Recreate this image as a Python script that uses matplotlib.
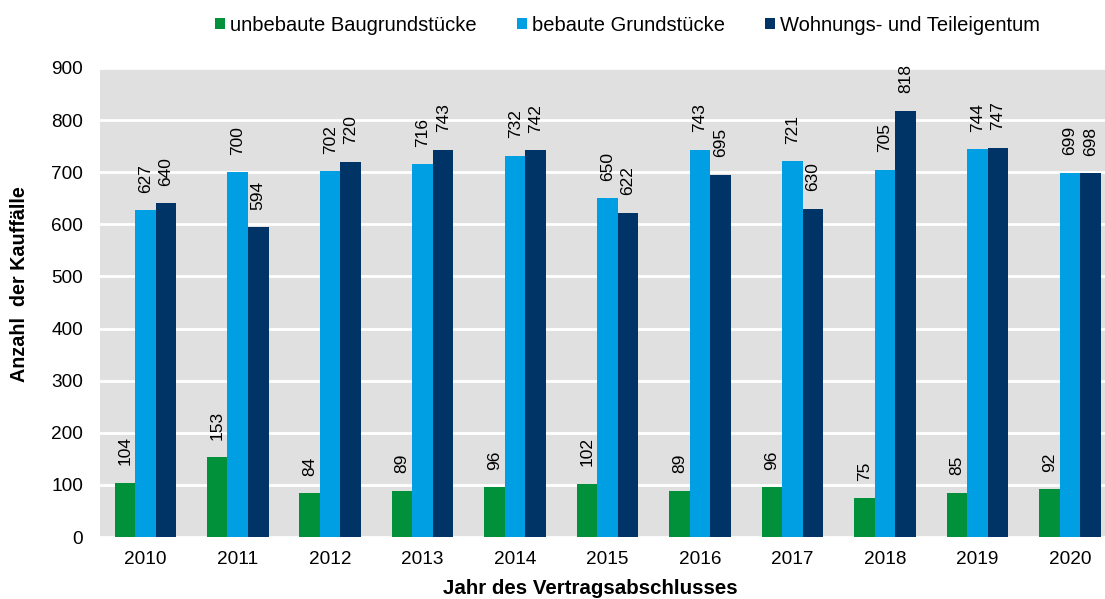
import matplotlib.pyplot as plt
import numpy as np

plt.rcParams['font.family'] = ['Liberation Sans', 'DejaVu Sans']

years = ['2010', '2011', '2012', '2013', '2014', '2015', '2016', '2017', '2018', '2019', '2020']
unbebaut = [104, 153, 84, 89, 96, 102, 89, 96, 75, 85, 92]
bebaut = [627, 700, 702, 716, 732, 650, 743, 721, 705, 744, 699]
wohnung = [640, 594, 720, 743, 742, 622, 695, 630, 818, 747, 698]

series_names = ['unbebaute Baugrundstücke', 'bebaute Grundstücke', 'Wohnungs- und Teileigentum']
colors = ['#00913A', '#009FE3', '#003366']

fig = plt.figure(figsize=(11.05, 5.99), dpi=100)
ax = fig.add_axes([0.0905, 0.1035, 0.9095, 0.783])
ax.set_facecolor('#E0E0E0')

x = np.arange(len(years))
w = 0.222
for i, (vals, name, c) in enumerate(zip([unbebaut, bebaut, wohnung], series_names, colors)):
    pos = x + (i - 1) * w
    ax.bar(pos, vals, width=w, color=c, label=name, zorder=3)
    for p, v in zip(pos, vals):
        ax.annotate(str(v), (p, v), xytext=(0, 12.5), textcoords='offset points',
                    rotation=90, ha='center', va='bottom', fontsize=12.5, zorder=4)

ax.set_ylim(0, 900)
ax.set_yticks(range(0, 901, 100))
ax.set_xlim(-0.49, 10.38)
ax.set_xticks(x)
ax.set_xticklabels(years)
ax.tick_params(axis='x', length=0, labelsize=13.7, pad=10)
ax.tick_params(axis='y', length=0, labelsize=13.7, pad=12)
ax.yaxis.grid(True, color='white', linewidth=2, zorder=1)
for s in ax.spines.values():
    s.set_visible(False)

ax.set_ylabel('Anzahl  der Kauffälle', fontsize=14.2, fontweight='bold')
ax.yaxis.set_label_coords(-0.071, 0.54)
ax.set_xlabel('Jahr des Vertragsabschlusses', fontsize=14.8, fontweight='bold')
ax.xaxis.set_label_coords(0.488, -0.09)

fig.legend(loc='center', bbox_to_anchor=(0.568, 0.958), ncol=3, frameon=False,
           fontsize=14.5, handlelength=0.5, handleheight=0.5, handletextpad=0.25,
           columnspacing=2.0)

fig.savefig('out.png', dpi=100)
